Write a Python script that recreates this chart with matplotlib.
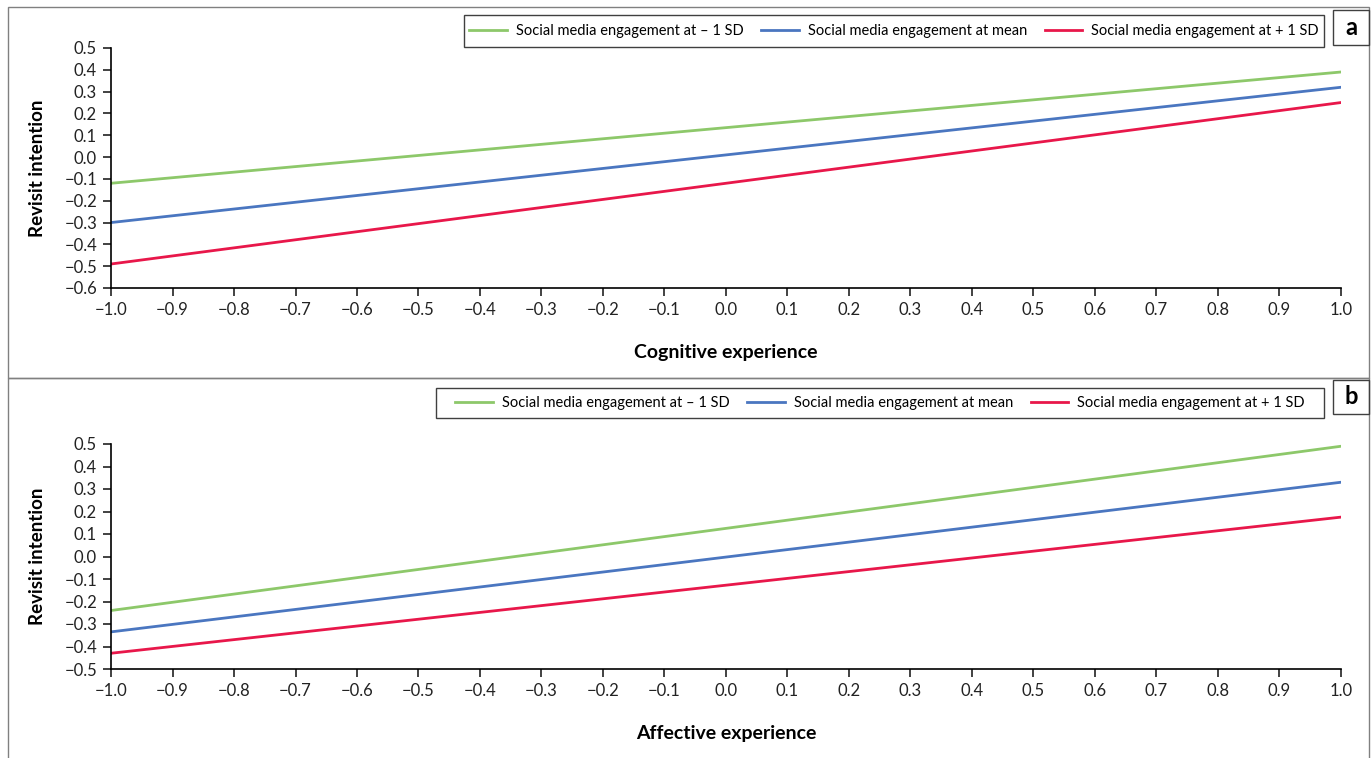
import matplotlib.pyplot as plt
from matplotlib.patches import Rectangle

plt.rcParams['font.family'] = ['Lato', 'DejaVu Sans']

# x range of both panels
x_vals = [-1.0, 1.0]
x_ticks = [round(-1.0 + 0.1 * i, 1) for i in range(21)]

# panel a: cognitive experience
a_low = [-0.12, 0.39]
a_mean = [-0.30, 0.32]
a_high = [-0.49, 0.25]
a_yticks = [round(-0.6 + 0.1 * i, 1) for i in range(12)]

# panel b: affective experience
b_low = [-0.24, 0.49]
b_mean = [-0.335, 0.33]
b_high = [-0.43, 0.175]
b_yticks = [round(-0.5 + 0.1 * i, 1) for i in range(11)]

labels = ['Social media engagement at \u2013 1 SD',
          'Social media engagement at mean',
          'Social media engagement at + 1 SD']
colors = ['#8DC86A', '#4A76C0', '#E8174A']

W, H = 1372, 758
fig = plt.figure(figsize=(W / 100, H / 100), dpi=100)


def px(x0, y0, x1, y1):
    # pixel box (top-left origin) -> figure fraction rect
    return [x0 / W, 1 - y1 / H, (x1 - x0) / W, (y1 - y0) / H]


def fmt(v):
    s = '%.1f' % v
    if v < 0:
        s = '\u2212' + s[1:]
    return s


def box(b, color):
    fig.add_artist(Rectangle((b[0] / W, 1 - b[3] / H), (b[2] - b[0]) / W, (b[3] - b[1]) / H,
                             transform=fig.transFigure, fill=False, edgecolor=color, lw=1))


def panel(top, ax_box, series, yticks, xlabel, letter, leg_box, lab_box):
    # outer frame
    box((8, top[0], 1369, top[1]), '#808080')
    ax = fig.add_axes(px(*ax_box))
    for vals, c, lab in zip(series, colors, labels):
        ax.plot(x_vals, vals, color=c, lw=2, label=lab)
    ax.set_xlim(-1.0, 1.0)
    ax.set_ylim(yticks[0], yticks[-1])
    ax.set_xticks(x_ticks)
    ax.set_xticklabels([fmt(v) for v in x_ticks])
    ax.set_yticks(yticks)
    ax.set_yticklabels([fmt(v) for v in yticks])
    ax.spines['top'].set_visible(False)
    ax.spines['right'].set_visible(False)
    ax.spines['left'].set_linewidth(1.2)
    ax.spines['bottom'].set_linewidth(1.2)
    ax.tick_params(direction='out', length=6, width=1.2, labelsize=12, colors='#222222', pad=4)
    ax.set_xlabel(xlabel, fontsize=14, fontweight='bold', labelpad=19)
    ax.set_ylabel('Revisit intention', fontsize=13.5, fontweight='bold', labelpad=13)
    # legend with its own square box
    box(leg_box, '#404040')
    fig.legend(*ax.get_legend_handles_labels(), loc='center',
               bbox_to_anchor=((leg_box[0] + leg_box[2]) / 2 / W, 1 - (leg_box[1] + leg_box[3]) / 2 / H),
               ncol=3, frameon=False, fontsize=10.5, handlelength=2.6, columnspacing=1.2,
               handletextpad=0.6)
    # panel letter
    box(lab_box, '#404040')
    fig.text((lab_box[0] + lab_box[2]) / 2 / W, 1 - (lab_box[1] + lab_box[3]) / 2 / H, letter,
             ha='center', va='center', fontsize=17, fontweight='bold')
    return ax


panel((7, 378), (111, 48, 1341, 288), [a_low, a_mean, a_high], a_yticks,
      'Cognitive experience', 'a', (464, 15, 1324, 47), (1333, 10, 1369, 45))
panel((378, 770), (111, 444, 1341, 669), [b_low, b_mean, b_high], b_yticks,
      'Affective experience', 'b', (436, 388, 1324, 418), (1333, 380, 1369, 414))

fig.savefig('out.png', dpi=100)
